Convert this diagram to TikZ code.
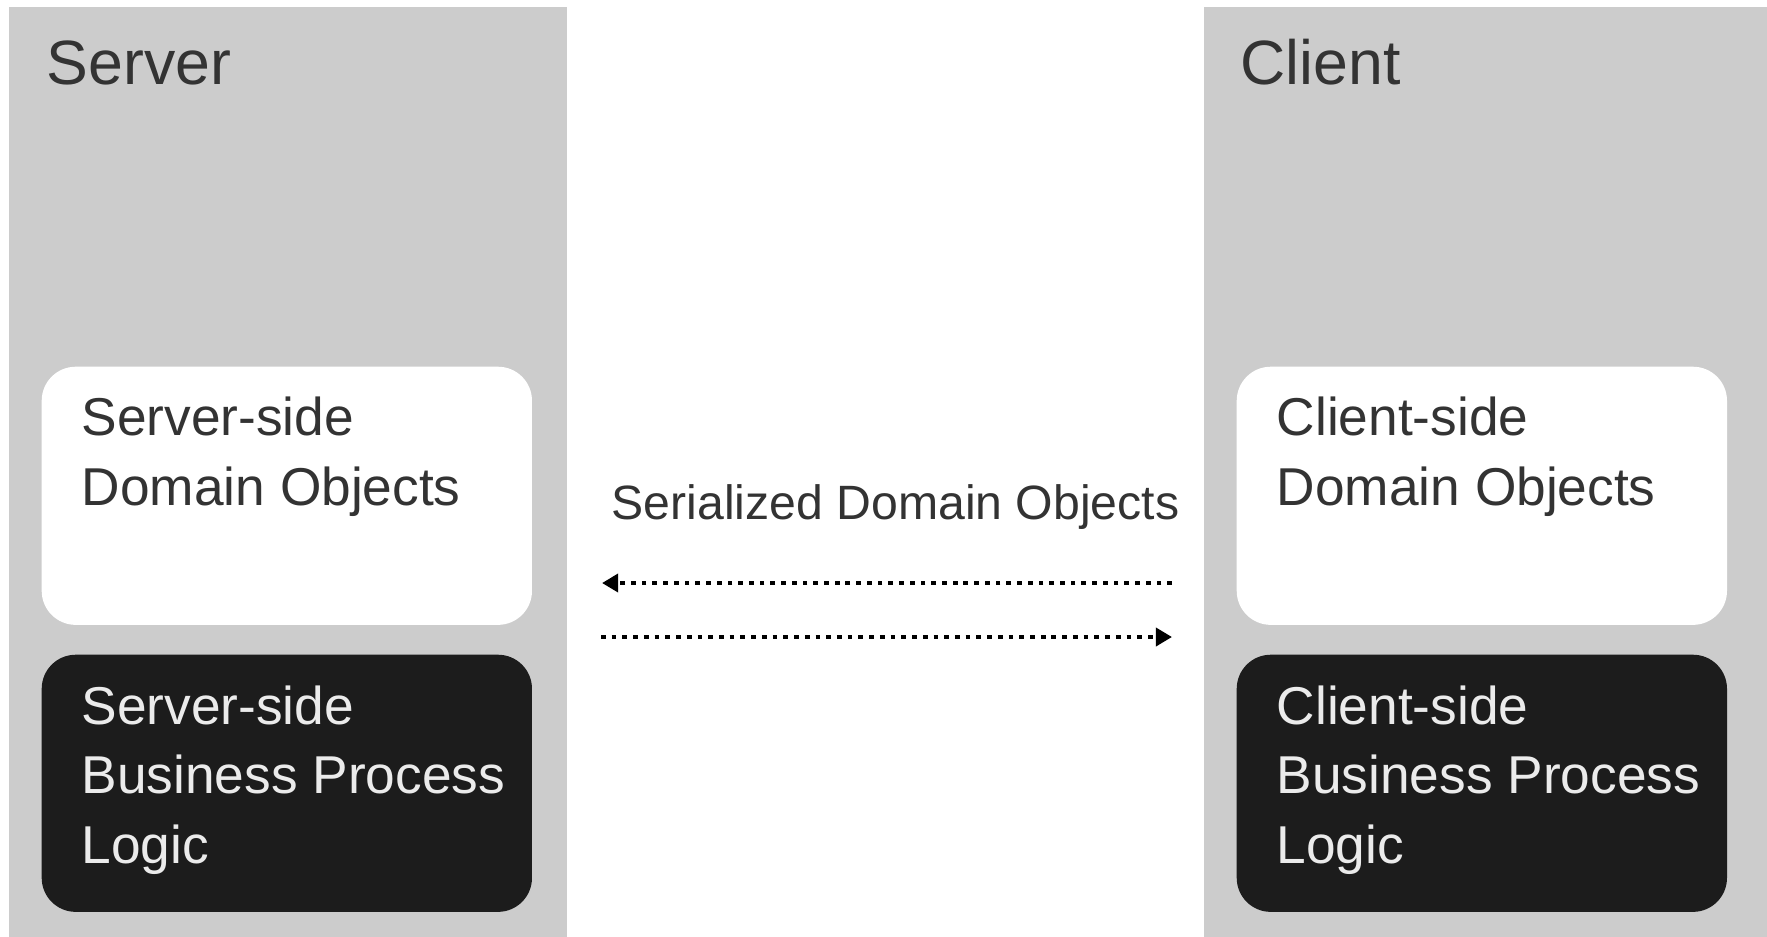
\documentclass[tikz,border=0pt]{standalone}
\usepackage{fontspec}
\setmainfont{Liberation Sans}
\usetikzlibrary{arrows.meta}

\definecolor{panelgray}{HTML}{CCCCCC}
\definecolor{inkgray}{HTML}{333333}
\definecolor{bizblack}{HTML}{1C1C1C}
\definecolor{bizink}{HTML}{EBEBEB}

\tikzset{
    panel/.style={fill=panelgray, anchor=north west, inner sep=0pt, minimum height=9.30cm},
    dombox/.style={fill=white, rounded corners=0.34cm, anchor=north west, inner sep=0pt,
        minimum width=4.90cm, minimum height=2.58cm},
    bizbox/.style={fill=bizblack, rounded corners=0.34cm, anchor=north west, inner sep=0pt,
        minimum width=4.90cm, minimum height=2.57cm},
    title/.style={anchor=base west, inner sep=0pt, text=inkgray, font=\fontsize{17.8}{21}\selectfont},
    boxtext/.style={anchor=base west, inner sep=0pt, align=left, font=\fontsize{15.15}{19.7}\selectfont},
    serial/.style={line width=1.2pt, dash pattern=on 1.35pt off 1.7pt, -{Triangle[length=4.6pt, width=5.1pt]}}
}

\begin{document}
\begin{tikzpicture}[x=0.01cm, y=-0.01cm]
    \useasboundingbox (0,0) rectangle (1767,936);
    % the two sides
    \node[panel, minimum width=5.58cm] (srv) at (8,6) {};
    \node[panel, minimum width=5.64cm] (cli) at (1203,6) {};
    \node[title] (srvtitle) at (46,84) {Server};
    \node[title] (clititle) at (1240,84) {Client};
    % domain objects and business logic (base = last line)
    \node[dombox] (srvdom) at (41,366) {};
    \node[dombox] (clidom) at (1236,366) {};
    \node[bizbox] (srvbiz) at (41,654) {};
    \node[bizbox] (clibiz) at (1236,654) {};
    \node[boxtext, text=inkgray] (srvdomtext) at (81,505) {Server-side\\Domain Objects};
    \node[boxtext, text=inkgray] (clidomtext) at (1276,505) {Client-side\\Domain Objects};
    \node[boxtext, text=bizink] (srvbiztext) at (81,863) {Server-side\\Business Process\\Logic};
    \node[boxtext, text=bizink] (clibiztext) at (1276,863) {Client-side\\Business Process\\Logic};
    % transfer between them
    \node[anchor=base west, inner sep=0pt, text=inkgray, font=\fontsize{13.7}{16}\selectfont] (serlabel) at (611,519) {Serialized Domain Objects};
    \coordinate (srvin) at (602,583);
    \coordinate (cliout) at (1172,583);
    \coordinate (srvout) at (601,637);
    \coordinate (cliin) at (1172,637);
    \draw[serial] (cliout) -- (srvin);
    \draw[serial] (srvout) -- (cliin);
\end{tikzpicture}
\end{document}
